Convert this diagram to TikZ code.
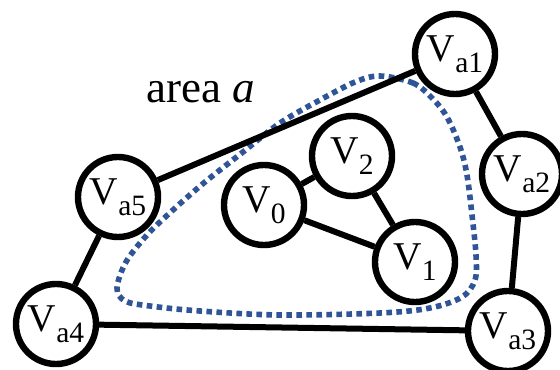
\documentclass[tikz,border=0pt]{standalone}
\usepackage{fontspec}
\newfontfamily\timesfont{Liberation Serif}
\usepackage{xcolor}
\usepackage{tikz}
\definecolor{areablue}{HTML}{2F5597}
\newcommand{\vname}[1]{V\raisebox{-0.28em}{\fontsize{21}{21}\selectfont #1}}

\begin{document}
\begin{tikzpicture}[x=0.025cm, y=-0.025cm,
  vert/.style={draw, circle, fill=white, line width=0.16cm, minimum size=2cm, inner sep=0pt, font=\timesfont\fontsize{28}{28}\selectfont},
  link/.style={line width=0.15cm},
  border/.style={areablue, line width=0.14cm, dash pattern=on 0.14cm off 0.11cm}]
\useasboundingbox (0,0) rectangle (560,369);
\draw[border] plot[smooth cycle, tension=0.55] coordinates {(380,76) (413,83) (432,98) (447,117) (460,147) (467,175) (472,215) (476,255) (475,280) (462,297) (430,308) (380,313) (280,315) (200,311) (150,306) (125,301) (117,288) (126,262) (147,235) (173,210) (205,182) (243,152) (280,123) (320,100) (355,82)};
\node[vert] (va1) at (455,54) {\vname{a1}};
\node[vert] (va2) at (522,174) {\vname{a2}};
\node[vert] (va3) at (508,331) {\vname{a3}};
\node[vert] (va4) at (56,324) {\vname{a4}};
\node[vert] (va5) at (118,197) {\vname{a5}};
\node[vert] (v0) at (264,205) {\vname{0}};
\node[vert] (v1) at (415,262) {\vname{1}};
\node[vert] (v2) at (352,156) {\vname{2}};
\node[anchor=base, font=\timesfont\fontsize{32}{32}\selectfont] (area) at (201,102) {area \textit{a}};
\foreach \a/\b in {va1/va2, va2/va3, va3/va4, va4/va5, va5/va1, v0/v2, v2/v1, v1/v0} \draw[link] (\a) -- (\b);
\end{tikzpicture}
\end{document}
